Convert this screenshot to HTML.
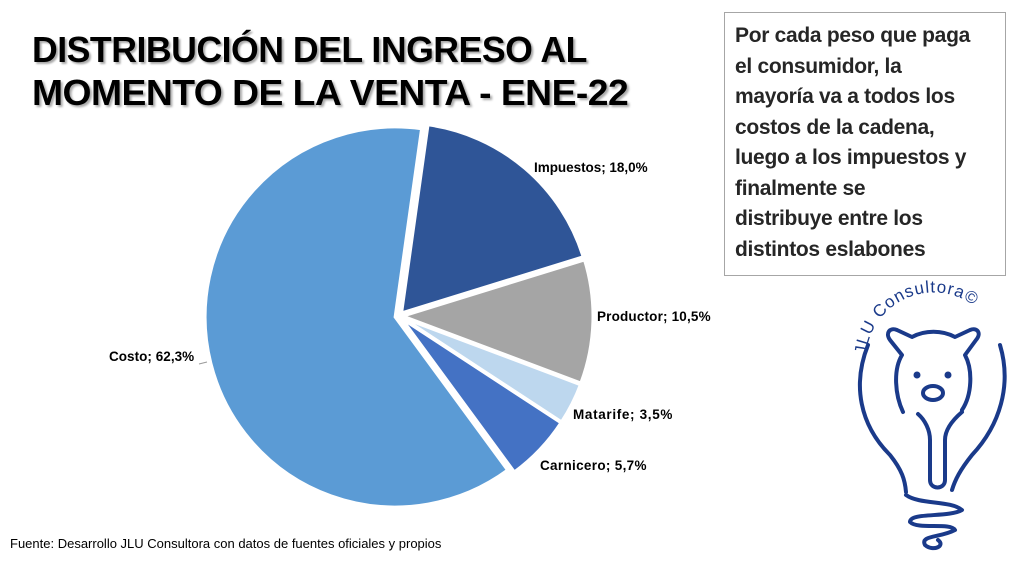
<!DOCTYPE html>
<html><head><meta charset="utf-8"><style>
body{margin:0;width:1021px;height:567px;background:#fff;position:relative;overflow:hidden;font-family:"Liberation Sans",sans-serif}
#title{position:absolute;left:32px;top:28px;font-size:36px;font-weight:bold;line-height:43px;color:#000;text-shadow:2px 2px 2px #aaa;letter-spacing:-0.5px;white-space:nowrap}
#title span{display:inline-block;transform-origin:0 0}
#note{position:absolute;left:724px;top:12px;width:260px;height:246px;border:1px solid #a6a6a6;padding:8px 10px;font-size:21px;font-weight:bold;line-height:30.5px;color:#262626;white-space:nowrap;letter-spacing:-0.3px}
#src{position:absolute;left:10px;top:536px;font-size:13px;color:#000}
svg{position:absolute;left:0;top:0}
</style></head><body>
<div id="title"><span style="transform:scaleX(0.99)">DISTRIBUCIÓN DEL INGRESO AL</span><br><span style="transform:scaleX(1.035)">MOMENTO DE LA VENTA - ENE-22</span></div>
<div id="note">Por cada peso que paga<br>el consumidor, la<br>mayoría va a todos los<br>costos de la cadena,<br>luego a los impuestos y<br>finalmente se<br>distribuye entre los<br>distintos eslabones</div>
<div id="src">Fuente: Desarrollo JLU Consultora con datos de fuentes oficiales y propios</div>
<svg id="chart" width="1021" height="567"></svg>
<svg width="1021" height="567" fill="none" stroke="#1a3a8a" stroke-width="4" stroke-linecap="round" stroke-linejoin="round">
<defs><path id="arc" d="M866 355 A68 68 0 0 1 1000 345"/></defs>
<text fill="#1a3a8a" stroke="none" font-size="17" font-family="Liberation Sans, sans-serif" letter-spacing="1"><textPath href="#arc">JLU Consultora©</textPath></text>
<path d="M868 345 C852 385 860 425 890 455 C902 470 905 480 906 492"/>
<path d="M1000 345 C1012 385 1000 425 972 455 C960 470 955 480 952 490"/>
<path d="M903 412 C895 395 893 370 902 355 L890 340 C885 333 890 327 897 330 L912 337 C925 330 942 330 955 337 L970 330 C977 327 982 333 976 340 L965 355 C973 370 972 395 962 410"/>
<path d="M918 414 C925 420 930 430 930 440 L930 480 C930 490 945 490 945 480 L945 440 C945 428 955 418 962 412"/>
<ellipse cx="933" cy="393" rx="10" ry="7"/>
<circle cx="917" cy="375" r="1.5" fill="#1a3a8a"/><circle cx="948" cy="375" r="1.5" fill="#1a3a8a"/>
<path d="M906 495 C920 505 950 500 962 510 C948 518 910 512 910 522 C918 530 950 522 955 530 C940 538 920 535 925 545 C933 552 946 546 938 540"/>
</svg>
<script>
const categories=["Impuestos","Productor","Matarife","Carnicero","Costo"];
const values=[18.0,10.5,3.5,5.7,62.3];
const labels=["Impuestos; 18,0%","Productor; 10,5%","Matarife; 3,5%","Carnicero; 5,7%","Costo; 62,3%"];
const colors=["#2f5597","#a5a5a5","#bdd7ee","#4472c4","#5b9bd5"];
const svg=document.getElementById('chart');
const NS='http://www.w3.org/2000/svg';
const cx=399,cy=316,r=190,startDeg=8,explode=4;
const lblPos=[[534,172],[597,321],[573,419],[540,470],[109,361]];
const total=values.reduce((a,b)=>a+b,0);
let a=startDeg;
function pt(ang,rad,ox,oy){const t=ang*Math.PI/180;return [ox+rad*Math.sin(t),oy-rad*Math.cos(t)];}
values.forEach((v,i)=>{
 const sweep=v/total*360;const mid=a+sweep/2;
 const [ox,oy]=pt(mid,explode,cx,cy);
 const p1=pt(a,r,ox,oy),p2=pt(a+sweep,r,ox,oy);
 const path=document.createElementNS(NS,'path');
 path.setAttribute('d',`M${ox},${oy} L${p1[0]},${p1[1]} A${r},${r} 0 ${sweep>180?1:0} 1 ${p2[0]},${p2[1]} Z`);
 path.setAttribute('fill',colors[i]);path.setAttribute('stroke','#fff');path.setAttribute('stroke-width','3');
 
 
 svg.appendChild(path);
 const t=document.createElementNS(NS,'text');
 t.setAttribute('x',lblPos[i][0]);t.setAttribute('y',lblPos[i][1]);
 t.setAttribute('font-size','13.5');t.setAttribute('font-weight','bold');t.setAttribute('font-family','Liberation Sans, sans-serif');
 t.setAttribute('textLength',labels[i].length*7.1);
 t.textContent=labels[i];
 
 
 svg.appendChild(t);
 a+=sweep;
});
const ln=document.createElementNS(NS,'path');
ln.setAttribute('d','M199 364 L207 362');ln.setAttribute('stroke','#999');ln.setAttribute('fill','none');


svg.appendChild(ln);
</script>
</body></html>
